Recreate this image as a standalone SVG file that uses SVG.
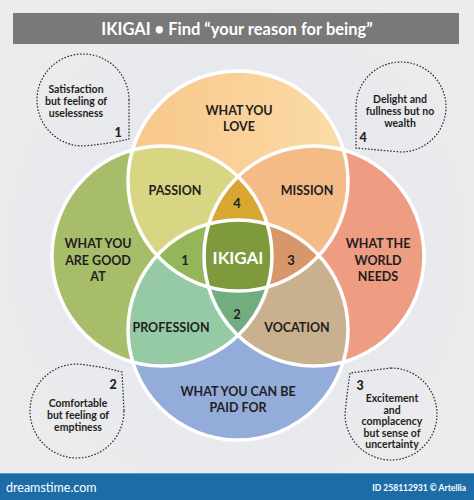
<svg xmlns="http://www.w3.org/2000/svg" xmlns:xlink="http://www.w3.org/1999/xlink" width="474" height="500" viewBox="0 0 474 500">
<defs>
<radialGradient id="bg" cx="0.5" cy="0.5" r="0.6">
<stop offset="0" stop-color="#e3e5f1"/>
<stop offset="1" stop-color="#ececec"/>
</radialGradient>
<circle id="T" cx="238" cy="181" r="110"/>
<circle id="L" cx="162" cy="256" r="110"/>
<circle id="R" cx="314" cy="256" r="110"/>
<circle id="B" cx="238" cy="330" r="110"/>
<clipPath id="cT"><circle cx="238" cy="181" r="110"/></clipPath>
<clipPath id="cL"><circle cx="162" cy="256" r="110"/></clipPath>
<clipPath id="cR"><circle cx="314" cy="256" r="110"/></clipPath>
<clipPath id="cB"><circle cx="238" cy="330" r="110"/></clipPath>
<linearGradient id="gT" x1="0" y1="0" x2="1" y2="0">
<stop offset="0" stop-color="#f8c68a"/><stop offset="1" stop-color="#fbdca6"/>
</linearGradient>
</defs>
<style>
.t{font-family:Lato,"Liberation Sans",sans-serif;font-weight:700;fill:#221e1f;text-anchor:middle;font-size:12.5px}
.n{font-size:13px}
.b{font-family:Lato,"Liberation Sans",sans-serif;font-weight:700;fill:#231f20;text-anchor:middle;font-size:10.5px}
.bn{font-size:12.5px;font-weight:900}
.bub{fill:none;stroke:#2a2a2a;stroke-width:1.2;stroke-dasharray:1.6 1.6}
.edge{fill:none;stroke:#ffffff;stroke-width:3.5}
</style>
<rect width="474" height="500" fill="url(#bg)"/>
<g id="title">
<rect x="13" y="13" width="446" height="31" fill="#797979"/>
<text x="237" y="34.5" style="font-family:Lato,'Liberation Sans',sans-serif;font-weight:700;font-size:16.5px;fill:#ffffff;text-anchor:middle">IKIGAI • Find “your reason for being”</text>
</g>
<g id="circles">
<use href="#T" fill="url(#gT)"/>
<use href="#L" fill="#a8bd6a"/>
<use href="#R" fill="#ee9c82"/>
<use href="#B" fill="#93acd9"/>
</g>
<g id="pairs">
<g clip-path="url(#cT)"><use href="#L" fill="#d9d683"/></g>
<g clip-path="url(#cT)"><use href="#R" fill="#f4bb87"/></g>
<g clip-path="url(#cB)"><use href="#L" fill="#95caa4"/></g>
<g clip-path="url(#cB)"><use href="#R" fill="#c9b08e"/></g>
</g>
<g id="triples">
<g clip-path="url(#cT)"><g clip-path="url(#cL)"><use href="#R" fill="#d7a732"/></g></g>
<g clip-path="url(#cT)"><g clip-path="url(#cL)"><use href="#B" fill="#93b65b"/></g></g>
<g clip-path="url(#cT)"><g clip-path="url(#cR)"><use href="#B" fill="#d8966b"/></g></g>
<g clip-path="url(#cL)"><g clip-path="url(#cR)"><use href="#B" fill="#72ad80"/></g></g>
</g>
<g id="ikigai-core">
<g clip-path="url(#cT)"><g clip-path="url(#cL)"><g clip-path="url(#cR)"><use href="#B" fill="#7e9a3d"/></g></g></g>
</g>
<g id="outlines">
<use href="#T" class="edge"/>
<use href="#L" class="edge"/>
<use href="#R" class="edge"/>
<use href="#B" class="edge"/>
</g>
<g id="connectors"/>
<g id="love"><text class="t" x="239" y="115">WHAT YOU</text><text class="t" x="239" y="131">LOVE</text></g>
<g id="good"><text class="t" x="98" y="248">WHAT YOU</text><text class="t" x="98" y="265">ARE GOOD</text><text class="t" x="98" y="281">AT</text></g>
<g id="world"><text class="t" x="378" y="248">WHAT THE</text><text class="t" x="378" y="265">WORLD</text><text class="t" x="378" y="281">NEEDS</text></g>
<g id="paid"><text class="t" x="238" y="396">WHAT YOU CAN BE</text><text class="t" x="238" y="412">PAID FOR</text></g>
<g id="passion"><text class="t" x="175" y="195">PASSION</text></g>
<g id="mission"><text class="t" x="307" y="195">MISSION</text></g>
<g id="profession"><text class="t" x="171" y="332">PROFESSION</text></g>
<g id="vocation"><text class="t" x="297" y="332">VOCATION</text></g>
<g id="r4"><text class="t n" x="237" y="208">4</text></g>
<g id="r1"><text class="t n" x="185" y="265">1</text></g>
<g id="r3"><text class="t n" x="291" y="265">3</text></g>
<g id="r2"><text class="t n" x="237" y="319">2</text></g>
<g id="ikigai"><text class="t" x="238" y="264" style="fill:#ffffff;font-size:17px">IKIGAI</text></g>
<g id="bubble1">
<path class="bub" d="M129,100 A46,46 0 1 0 83,146 Q108,144 129,139 Z"/>
<text class="b" x="76" y="93">Satisfaction</text>
<text class="b" x="76" y="105">but feeling of</text>
<text class="b" x="76" y="117">uselessness</text>
<text class="b bn" x="118" y="137">1</text>
</g>
<g id="bubble4">
<path class="bub" d="M356,107 A45,45 0 1 1 401,152 Q378,150 356,148 Z"/>
<text class="b" x="400" y="103">Delight and</text>
<text class="b" x="400" y="115">fullness but no</text>
<text class="b" x="400" y="127">wealth</text>
<text class="b bn" x="363" y="142">4</text>
</g>
<g id="bubble2">
<path class="bub" d="M124,411 A47,47 0 1 1 77,364 Q100,366 122,372 Z"/>
<text class="b" x="78" y="407">Comfortable</text>
<text class="b" x="78" y="419">but feeling of</text>
<text class="b" x="78" y="431">emptiness</text>
<text class="b bn" x="113" y="389">2</text>
</g>
<g id="bubble3">
<path class="bub" d="M391,368 A46,46 0 1 1 345,414 Q347,393 350,373 Z"/>
<text class="b bn" x="360" y="390">3</text>
<text class="b" x="392" y="402">Excitement</text>
<text class="b" x="392" y="413.5">and</text>
<text class="b" x="392" y="425">complacency</text>
<text class="b" x="392" y="436.5">but sense of</text>
<text class="b" x="392" y="448">uncertainty</text>
</g>
<g id="footer">
<rect x="0" y="473" width="474" height="27" fill="#1c6da7"/>
<rect x="0" y="473" width="474" height="1" fill="#5d9ccb"/>
<text x="6" y="492" style="font-family:Lato,'Liberation Sans',sans-serif;font-size:12.5px;fill:#ffffff">dreamstime.com</text>
<text x="466" y="491" style="font-family:Lato,'Liberation Sans',sans-serif;font-weight:700;font-size:8.5px;fill:#ffffff;text-anchor:end">ID 258112931 © Artellia</text>
</g>
</svg>
